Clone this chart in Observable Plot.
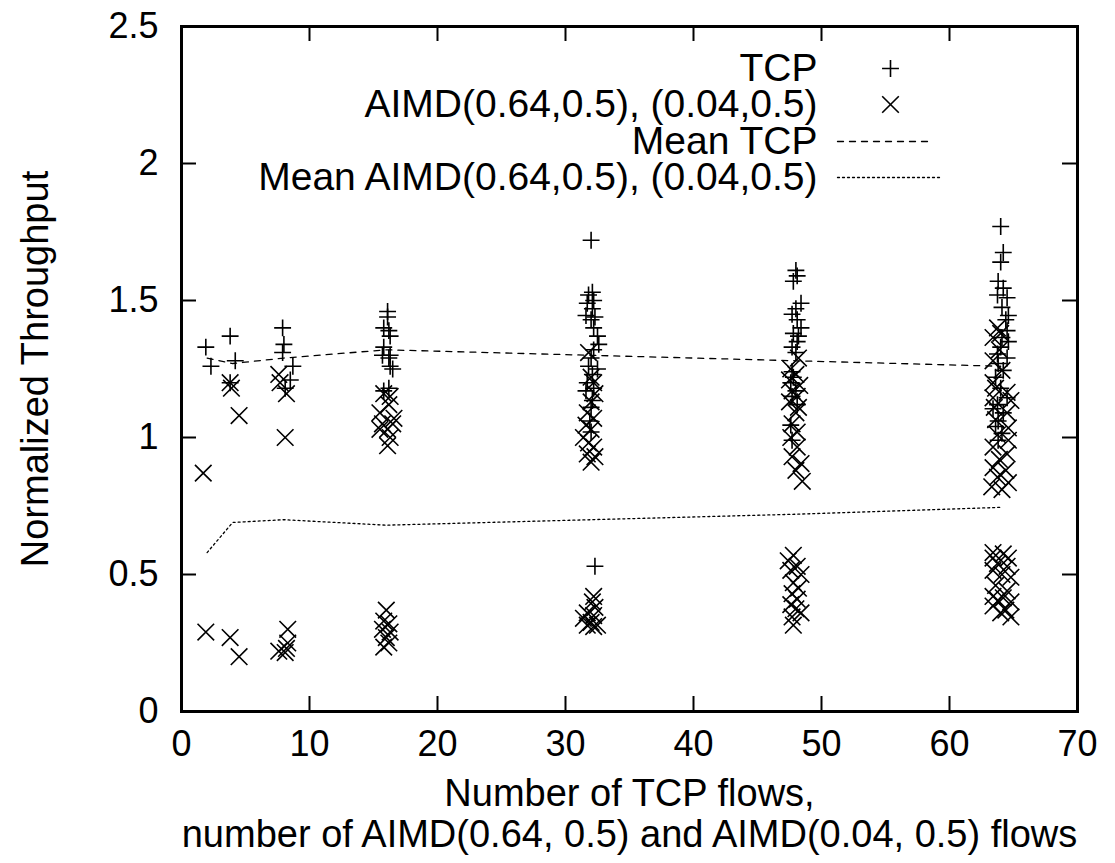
<!DOCTYPE html>
<html><head><meta charset="utf-8">
<script src="https://cdn.jsdelivr.net/npm/d3@7"></script>
<script src="https://cdn.jsdelivr.net/npm/@observablehq/plot@0.6"></script>
<style>html,body{margin:0;padding:0;background:#fff}</style>
</head><body><div id="chart"></div>
<script>
const xTicks = [0, 10, 20, 30, 40, 50, 60, 70];
const yTicks = [0, 0.5, 1, 1.5, 2, 2.5];
const meanX = [2, 4, 8, 16, 32, 48, 64];
const meanTCP = [1.29, 1.27, 1.29, 1.32, 1.30, 1.28, 1.26];
const meanAIMD = [0.58, 0.69, 0.70, 0.68, 0.70, 0.72, 0.745];
const legendLabels = ["TCP", "AIMD(0.64,0.5), (0.04,0.5)", "Mean TCP", "Mean AIMD(0.64,0.5), (0.04,0.5)"];
const xLabel = "Number of TCP flows,\nnumber of AIMD(0.64, 0.5) and AIMD(0.04, 0.5) flows";
const yLabel = "Normalized Throughput";

const tcpPoints = [
  [1.9,1.33],[2.3,1.26],[3.8,1.37],[4.2,1.28],[3.8,1.20],
  [7.9,1.40],[8.0,1.34],[7.9,1.31],[8.7,1.26],[8.5,1.21],[8.1,1.18],
  [16.1,1.46],[16.1,1.44],[15.8,1.40],[16.2,1.39],[16.3,1.37],[15.8,1.33],[15.7,1.30],[16.3,1.30],[16.2,1.29],[16.3,1.26],[16.5,1.25],[16.2,1.18],[15.8,1.17],
  [32.0,1.72],[32.1,1.53],[31.8,1.52],[32.2,1.50],[31.7,1.49],[32.1,1.47],[31.6,1.445],[32.3,1.44],[32.0,1.43],[32.2,1.40],[32.5,1.37],[32.6,1.34],[32.2,1.32],[32.0,1.29],[31.8,1.26],[32.5,1.25],[32.1,1.23],[31.7,1.20],[32.2,1.18],[31.6,1.17],[32.1,1.135],[32.0,1.11],[31.9,1.06],[32.0,1.02],[32.3,0.53],
  [48.0,1.61],[48.1,1.59],[47.8,1.57],[48.4,1.49],[48.0,1.47],[47.7,1.45],[48.1,1.43],[48.4,1.40],[47.8,1.38],[48.2,1.37],[48.1,1.35],[47.7,1.33],[48.0,1.31],[47.7,1.24],[47.8,1.22],[47.6,1.20],[48.0,1.17],[47.7,1.15],[48.1,1.12],[47.6,1.045],[47.7,0.99],
  [64.0,1.77],[64.2,1.675],[64.0,1.64],[63.8,1.57],[64.2,1.545],[63.75,1.52],[64.5,1.51],[64.1,1.475],[64.6,1.445],[64.4,1.43],[64.5,1.39],[64.1,1.365],[64.6,1.35],[64.0,1.33],[63.75,1.305],[64.5,1.29],[63.8,1.27],[64.2,1.245],[63.6,1.22],[64.0,1.18],[64.5,1.145],[63.75,1.12],[63.4,1.105],[64.2,1.09],[63.8,1.06],[63.6,1.04],[64.1,1.015],[63.8,0.99]
];

const aimdPoints = [
  [1.7,0.87],[3.8,1.20],[3.9,1.18],[4.5,1.08],[7.6,1.23],[7.7,1.20],[8.2,1.16],[8.1,1.00],
  [1.9,0.29],[3.8,0.27],[4.5,0.20],[7.6,0.22],[8.2,0.23],[8.3,0.25],[8.3,0.30],[8.1,0.215],
  [15.8,1.16],[16.3,1.15],[16.2,1.12],[15.5,1.09],[16.6,1.07],[15.7,1.05],[16.5,1.05],[16.1,1.03],[15.5,1.03],[16.3,1.00],[16.1,0.97],
  [16.0,0.37],[15.8,0.33],[16.2,0.32],[15.7,0.30],[16.3,0.29],[16.0,0.27],[16.2,0.25],[15.8,0.235],
  [31.8,1.31],[32.0,1.22],[32.2,1.20],[32.3,1.16],[32.0,1.13],[31.7,1.09],[32.2,1.07],[31.6,1.045],[32.0,1.03],[31.4,1.00],[31.8,0.98],[32.2,0.965],[31.7,0.94],[32.3,0.93],[32.0,0.91],
  [32.2,0.42],[32.1,0.40],[32.3,0.38],[31.7,0.36],[32.2,0.35],[31.4,0.34],[32.0,0.325],[31.7,0.315],[32.2,0.31],[32.5,0.315],
  [48.2,1.29],[47.6,1.25],[48.0,1.23],[47.5,1.21],[48.3,1.19],[47.7,1.17],[48.1,1.15],[47.5,1.13],[48.2,1.11],[48.0,1.09],[47.7,1.05],[48.1,1.02],[47.6,1.00],[48.1,0.965],[47.7,0.93],[48.4,0.905],[48.0,0.88],[48.5,0.84],
  [47.8,0.57],[47.4,0.55],[48.1,0.53],[47.6,0.515],[48.4,0.50],[47.8,0.47],[48.2,0.45],[47.7,0.43],[48.1,0.41],[47.6,0.39],[48.0,0.375],[48.4,0.36],[47.7,0.345],[47.8,0.315],
  [63.75,1.40],[64.0,1.38],[63.4,1.365],[63.9,1.32],[63.4,1.28],[64.1,1.245],[63.4,1.20],[63.6,1.18],[64.5,1.165],[63.4,1.145],[64.8,1.135],[63.5,1.11],[64.5,1.09],[63.6,1.065],[64.6,1.035],[63.75,1.01],[64.6,0.99],[63.4,0.965],[64.5,0.94],[63.9,0.92],[63.4,0.89],[64.4,0.88],[63.75,0.855],[64.6,0.835],[63.3,0.82],[64.1,0.81],
  [63.4,0.58],[64.2,0.575],[63.4,0.56],[64.6,0.56],[63.75,0.54],[64.5,0.53],[63.4,0.515],[64.1,0.50],[64.8,0.49],[63.6,0.46],[64.5,0.44],[63.4,0.42],[64.2,0.415],[63.8,0.405],[64.8,0.40],[63.4,0.385],[64.4,0.37],[64.0,0.36],[64.8,0.345]
];

const W = 1115, H = 863;
const mL = 181, mR = 38, mT = 26, mB = 152;
const fw = W - mL - mR, fh = H - mT - mB;
const tickLen = 15;
const lineShape = {draw(context, l) { context.moveTo(0, 0); context.lineTo(0, -l); }};

const meanTcpData = meanX.map((x, i) => ({x, y: meanTCP[i]}));
const meanAimdData = meanX.map((x, i) => ({x, y: meanAIMD[i]}));

const ink = {stroke: "#000", fill: "none"};
const plusR = 5.5, timesR = 7.6;
const legRight = -260;
const legRows = [42, 78, 115, 151];
const txt = {fill: "#000", fontSize: 38, lineAnchor: "middle"};
const legTxt = {fill: "#000", fontSize: 39, lineAnchor: "middle", textAnchor: "end", frameAnchor: "top-right", dx: legRight};

const chart = Plot.plot({
  width: W, height: H,
  marginLeft: mL, marginRight: mR, marginTop: mT, marginBottom: mB,
  style: {fontFamily: "'Liberation Sans', Arial, Helvetica, sans-serif", fontSize: "36px", color: "#000", background: "#fff"},
  x: {domain: [0, 70], ticks: xTicks, tickSize: 0, tickPadding: 19, label: null, tickFormat: d => String(d)},
  y: {domain: [0, 2.5], ticks: yTicks, tickSize: 0, tickPadding: 23, label: null, tickFormat: d => String(d)},
  marks: [
    Plot.ruleX(xTicks, {x: d => d, insetTop: fh - tickLen, stroke: "#000", strokeWidth: 2}),
    Plot.ruleX(xTicks, {x: d => d, insetBottom: fh - tickLen, stroke: "#000", strokeWidth: 2}),
    Plot.ruleY(yTicks, {y: d => d, insetRight: fw - tickLen, stroke: "#000", strokeWidth: 2}),
    Plot.ruleY(yTicks, {y: d => d, insetLeft: fw - tickLen, stroke: "#000", strokeWidth: 2}),
    Plot.line(meanTcpData, {x: "x", y: "y", stroke: "#000", strokeWidth: 1.3, strokeDasharray: "6,6"}),
    Plot.line(meanAimdData, {x: "x", y: "y", stroke: "#000", strokeWidth: 1.3, strokeDasharray: "2,3"}),
    Plot.dot(tcpPoints, {x: d => d[0], y: d => d[1], symbol: "plus", r: plusR, strokeWidth: 1.6, ...ink}),
    Plot.dot(aimdPoints, {x: d => d[0], y: d => d[1], symbol: "times", r: timesR, strokeWidth: 1.6, ...ink}),
    Plot.frame({stroke: "#000", strokeWidth: 3}),
    // legend
    Plot.text([legendLabels[0]], {dy: legRows[0], ...legTxt}),
    Plot.text([legendLabels[1]], {dy: legRows[1], ...legTxt}),
    Plot.text([legendLabels[2]], {dy: legRows[2], ...legTxt}),
    Plot.text([legendLabels[3]], {dy: legRows[3], ...legTxt}),
    Plot.dot([legendLabels[0]], {frameAnchor: "top-right", dx: -187, dy: legRows[0], symbol: "plus", r: plusR, strokeWidth: 1.6, ...ink}),
    Plot.dot([legendLabels[1]], {frameAnchor: "top-right", dx: -187, dy: legRows[1], symbol: "times", r: timesR, strokeWidth: 1.6, ...ink}),
    Plot.vector([legendLabels[2]], {frameAnchor: "top-right", dx: -240, dy: legRows[2], length: 96, rotate: 90, anchor: "start", shape: lineShape, stroke: "#000", strokeWidth: 1.3, strokeDasharray: "6,6"}),
    Plot.vector([legendLabels[3]], {frameAnchor: "top-right", dx: -240, dy: legRows[3], length: 104, rotate: 90, anchor: "start", shape: lineShape, stroke: "#000", strokeWidth: 1.3, strokeDasharray: "2,3"}),
    // axis titles
    Plot.text([yLabel], {frameAnchor: "left", dx: -146, rotate: -90, textAnchor: "middle", ...txt}),
    Plot.text([xLabel], {frameAnchor: "bottom", dy: 102, lineHeight: 1.06, textAnchor: "middle", ...txt})
  ]
});
document.getElementById("chart").appendChild(chart);
</script>
</body></html>
